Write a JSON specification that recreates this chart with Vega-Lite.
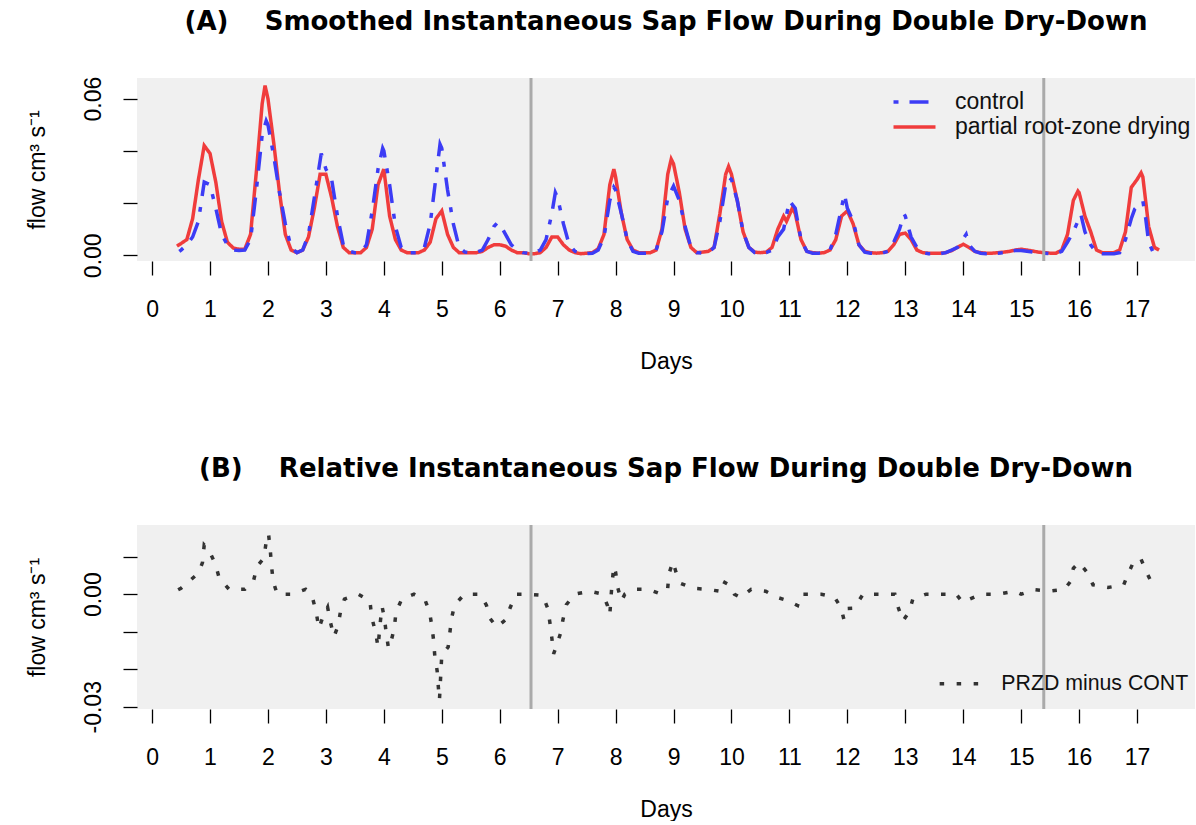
{
"$schema": "https://vega.github.io/schema/vega-lite/v6.json",
"background": "white",
"padding": {"left": 26, "top": 8, "right": 0, "bottom": 0},
"spacing": 83,
"config": {
  "view": {"fill": "#f0f0f0", "stroke": null},
  "font": "Liberation Sans",
  "axis": {"labelFont": "Liberation Sans", "labelFontSize": 23, "labelColor": "black", "tickColor": "black", "tickWidth": 1.3, "titleFont": "Liberation Sans", "titleColor": "black", "titleFontSize": 23, "titleFontWeight": "normal", "grid": false, "domain": false, "labelOverlap": false, "labelFlush": false},
  "title": {"font": "DejaVu Sans", "fontSize": 26, "fontWeight": "bold", "anchor": "middle", "frame": "group", "color": "black", "baseline": "alphabetic", "offset": 41.5},
  "legend": {"labelLimit": 500}
},
"resolve": {"scale": {"color": "independent", "strokeDash": "independent"}, "legend": {"color": "independent", "strokeDash": "independent"}},
"datasets": {
"sap": [
{"t":0.43,"s":"P","v":0.0035},{"t":0.5,"s":"P","v":0.0045},{"t":0.6,"s":"P","v":0.006},{"t":0.7,"s":"P","v":0.014},{"t":0.8,"s":"P","v":0.029},{"t":0.9,"s":"P","v":0.042},{"t":1.0,"s":"P","v":0.039},{"t":1.1,"s":"P","v":0.028},{"t":1.2,"s":"P","v":0.013},{"t":1.3,"s":"P","v":0.005},{"t":1.4,"s":"P","v":0.0028},
{"t":1.5,"s":"P","v":0.0023},{"t":1.6,"s":"P","v":0.0023},{"t":1.7,"s":"P","v":0.008},{"t":1.8,"s":"P","v":0.032},{"t":1.9,"s":"P","v":0.058},{"t":1.95,"s":"P","v":0.065},{"t":2.0,"s":"P","v":0.06},{"t":2.1,"s":"P","v":0.043},{"t":2.2,"s":"P","v":0.024},{"t":2.3,"s":"P","v":0.008},{"t":2.4,"s":"P","v":0.002},
{"t":2.5,"s":"P","v":0.001},{"t":2.6,"s":"P","v":0.002},{"t":2.7,"s":"P","v":0.007},{"t":2.8,"s":"P","v":0.018},{"t":2.9,"s":"P","v":0.031},{"t":3.0,"s":"P","v":0.031},{"t":3.1,"s":"P","v":0.022},{"t":3.2,"s":"P","v":0.011},{"t":3.3,"s":"P","v":0.003},{"t":3.4,"s":"P","v":0.001},
{"t":3.5,"s":"P","v":0.001},{"t":3.6,"s":"P","v":0.001},{"t":3.7,"s":"P","v":0.003},{"t":3.8,"s":"P","v":0.01},{"t":3.9,"s":"P","v":0.027},{"t":4.0,"s":"P","v":0.033},{"t":4.1,"s":"P","v":0.015},{"t":4.2,"s":"P","v":0.006},{"t":4.3,"s":"P","v":0.002},{"t":4.4,"s":"P","v":0.001},
{"t":4.5,"s":"P","v":0.001},{"t":4.6,"s":"P","v":0.001},{"t":4.7,"s":"P","v":0.002},{"t":4.8,"s":"P","v":0.005},{"t":4.9,"s":"P","v":0.014},{"t":5.0,"s":"P","v":0.017},{"t":5.1,"s":"P","v":0.008},{"t":5.2,"s":"P","v":0.003},{"t":5.3,"s":"P","v":0.001},{"t":5.4,"s":"P","v":0.001},
{"t":5.5,"s":"P","v":0.001},{"t":5.6,"s":"P","v":0.001},{"t":5.7,"s":"P","v":0.0015},{"t":5.8,"s":"P","v":0.003},{"t":5.9,"s":"P","v":0.004},{"t":6.0,"s":"P","v":0.004},{"t":6.1,"s":"P","v":0.0035},{"t":6.2,"s":"P","v":0.002},{"t":6.3,"s":"P","v":0.001},{"t":6.4,"s":"P","v":0.001},
{"t":6.5,"s":"P","v":0.0006},{"t":6.6,"s":"P","v":0.0006},{"t":6.7,"s":"P","v":0.001},{"t":6.8,"s":"P","v":0.003},{"t":6.9,"s":"P","v":0.007},{"t":7.0,"s":"P","v":0.007},{"t":7.1,"s":"P","v":0.004},{"t":7.2,"s":"P","v":0.002},{"t":7.3,"s":"P","v":0.001},{"t":7.4,"s":"P","v":0.0006},
{"t":7.5,"s":"P","v":0.0008},{"t":7.6,"s":"P","v":0.001},{"t":7.7,"s":"P","v":0.0025},{"t":7.8,"s":"P","v":0.008},{"t":7.9,"s":"P","v":0.027},{"t":7.97,"s":"P","v":0.033},{"t":8.0,"s":"P","v":0.03},{"t":8.1,"s":"P","v":0.016},{"t":8.2,"s":"P","v":0.006},{"t":8.3,"s":"P","v":0.002},{"t":8.4,"s":"P","v":0.001},
{"t":8.5,"s":"P","v":0.001},{"t":8.6,"s":"P","v":0.001},{"t":8.7,"s":"P","v":0.002},{"t":8.8,"s":"P","v":0.01},{"t":8.9,"s":"P","v":0.031},{"t":8.96,"s":"P","v":0.0368},{"t":9.0,"s":"P","v":0.035},{"t":9.1,"s":"P","v":0.024},{"t":9.2,"s":"P","v":0.01},{"t":9.3,"s":"P","v":0.003},{"t":9.4,"s":"P","v":0.001},
{"t":9.5,"s":"P","v":0.0012},{"t":9.6,"s":"P","v":0.0015},{"t":9.7,"s":"P","v":0.003},{"t":9.8,"s":"P","v":0.016},{"t":9.9,"s":"P","v":0.031},{"t":9.95,"s":"P","v":0.034},{"t":10.0,"s":"P","v":0.031},{"t":10.1,"s":"P","v":0.021},{"t":10.2,"s":"P","v":0.009},{"t":10.3,"s":"P","v":0.003},{"t":10.4,"s":"P","v":0.0012},
{"t":10.5,"s":"P","v":0.001},{"t":10.6,"s":"P","v":0.0012},{"t":10.7,"s":"P","v":0.003},{"t":10.8,"s":"P","v":0.01},{"t":10.9,"s":"P","v":0.015},{"t":10.95,"s":"P","v":0.013},{"t":11.05,"s":"P","v":0.018},{"t":11.1,"s":"P","v":0.016},{"t":11.2,"s":"P","v":0.006},{"t":11.3,"s":"P","v":0.0015},{"t":11.4,"s":"P","v":0.001},
{"t":11.5,"s":"P","v":0.0008},{"t":11.6,"s":"P","v":0.001},{"t":11.7,"s":"P","v":0.002},{"t":11.8,"s":"P","v":0.006},{"t":11.9,"s":"P","v":0.015},{"t":12.0,"s":"P","v":0.017},{"t":12.1,"s":"P","v":0.012},{"t":12.2,"s":"P","v":0.004},{"t":12.3,"s":"P","v":0.0015},{"t":12.4,"s":"P","v":0.001},
{"t":12.5,"s":"P","v":0.0008},{"t":12.6,"s":"P","v":0.001},{"t":12.7,"s":"P","v":0.0015},{"t":12.8,"s":"P","v":0.004},{"t":12.9,"s":"P","v":0.008},{"t":13.0,"s":"P","v":0.0085},{"t":13.1,"s":"P","v":0.006},{"t":13.2,"s":"P","v":0.002},{"t":13.3,"s":"P","v":0.001},{"t":13.4,"s":"P","v":0.0008},
{"t":13.5,"s":"P","v":0.0008},{"t":13.6,"s":"P","v":0.0008},{"t":13.7,"s":"P","v":0.001},{"t":13.8,"s":"P","v":0.0018},{"t":13.9,"s":"P","v":0.003},{"t":14.0,"s":"P","v":0.0042},{"t":14.1,"s":"P","v":0.003},{"t":14.2,"s":"P","v":0.0015},{"t":14.3,"s":"P","v":0.001},{"t":14.4,"s":"P","v":0.0008},
{"t":14.5,"s":"P","v":0.0008},{"t":14.6,"s":"P","v":0.001},{"t":14.7,"s":"P","v":0.0012},{"t":14.8,"s":"P","v":0.0015},{"t":14.9,"s":"P","v":0.002},{"t":15.0,"s":"P","v":0.0023},{"t":15.1,"s":"P","v":0.002},{"t":15.2,"s":"P","v":0.0016},{"t":15.3,"s":"P","v":0.0012},{"t":15.4,"s":"P","v":0.001},
{"t":15.5,"s":"P","v":0.0008},{"t":15.6,"s":"P","v":0.0008},{"t":15.7,"s":"P","v":0.002},{"t":15.8,"s":"P","v":0.008},{"t":15.9,"s":"P","v":0.021},{"t":15.98,"s":"P","v":0.0246},{"t":16.0,"s":"P","v":0.024},{"t":16.1,"s":"P","v":0.015},{"t":16.2,"s":"P","v":0.009},{"t":16.3,"s":"P","v":0.002},{"t":16.4,"s":"P","v":0.001},
{"t":16.5,"s":"P","v":0.001},{"t":16.6,"s":"P","v":0.001},{"t":16.7,"s":"P","v":0.002},{"t":16.8,"s":"P","v":0.009},{"t":16.9,"s":"P","v":0.026},{"t":17.0,"s":"P","v":0.029},{"t":17.07,"s":"P","v":0.0316},{"t":17.1,"s":"P","v":0.03},{"t":17.2,"s":"P","v":0.011},{"t":17.3,"s":"P","v":0.003},{"t":17.38,"s":"P","v":0.002},
{"t":0.47,"s":"C","v":0.0015},{"t":0.5,"s":"C","v":0.002},{"t":0.6,"s":"C","v":0.004},{"t":0.7,"s":"C","v":0.007},{"t":0.8,"s":"C","v":0.013},{"t":0.9,"s":"C","v":0.028},{"t":1.0,"s":"C","v":0.027},{"t":1.1,"s":"C","v":0.018},{"t":1.2,"s":"C","v":0.008},{"t":1.3,"s":"C","v":0.004},{"t":1.4,"s":"C","v":0.002},
{"t":1.5,"s":"C","v":0.0018},{"t":1.6,"s":"C","v":0.002},{"t":1.7,"s":"C","v":0.006},{"t":1.8,"s":"C","v":0.025},{"t":1.9,"s":"C","v":0.046},{"t":1.97,"s":"C","v":0.0515},{"t":2.0,"s":"C","v":0.05},{"t":2.1,"s":"C","v":0.038},{"t":2.2,"s":"C","v":0.024},{"t":2.3,"s":"C","v":0.012},{"t":2.4,"s":"C","v":0.003},
{"t":2.5,"s":"C","v":0.001},{"t":2.6,"s":"C","v":0.002},{"t":2.7,"s":"C","v":0.008},{"t":2.8,"s":"C","v":0.022},{"t":2.92,"s":"C","v":0.039},{"t":3.0,"s":"C","v":0.033},{"t":3.1,"s":"C","v":0.029},{"t":3.2,"s":"C","v":0.015},{"t":3.3,"s":"C","v":0.004},{"t":3.4,"s":"C","v":0.0015},
{"t":3.5,"s":"C","v":0.001},{"t":3.6,"s":"C","v":0.001},{"t":3.7,"s":"C","v":0.004},{"t":3.8,"s":"C","v":0.017},{"t":3.9,"s":"C","v":0.033},{"t":3.98,"s":"C","v":0.041},{"t":4.0,"s":"C","v":0.04},{"t":4.1,"s":"C","v":0.027},{"t":4.2,"s":"C","v":0.011},{"t":4.3,"s":"C","v":0.003},{"t":4.4,"s":"C","v":0.001},
{"t":4.5,"s":"C","v":0.001},{"t":4.6,"s":"C","v":0.001},{"t":4.7,"s":"C","v":0.003},{"t":4.8,"s":"C","v":0.012},{"t":4.9,"s":"C","v":0.03},{"t":4.97,"s":"C","v":0.0425},{"t":5.0,"s":"C","v":0.041},{"t":5.1,"s":"C","v":0.025},{"t":5.2,"s":"C","v":0.012},{"t":5.3,"s":"C","v":0.003},{"t":5.4,"s":"C","v":0.0012},
{"t":5.5,"s":"C","v":0.001},{"t":5.6,"s":"C","v":0.0012},{"t":5.7,"s":"C","v":0.002},{"t":5.8,"s":"C","v":0.006},{"t":5.9,"s":"C","v":0.011},{"t":5.96,"s":"C","v":0.0125},{"t":6.0,"s":"C","v":0.012},{"t":6.1,"s":"C","v":0.008},{"t":6.2,"s":"C","v":0.004},{"t":6.3,"s":"C","v":0.002},{"t":6.4,"s":"C","v":0.001},
{"t":6.5,"s":"C","v":0.0008},{"t":6.6,"s":"C","v":0.001},{"t":6.7,"s":"C","v":0.002},{"t":6.8,"s":"C","v":0.006},{"t":6.9,"s":"C","v":0.016},{"t":6.96,"s":"C","v":0.024},{"t":7.0,"s":"C","v":0.022},{"t":7.1,"s":"C","v":0.012},{"t":7.2,"s":"C","v":0.004},{"t":7.3,"s":"C","v":0.0015},{"t":7.4,"s":"C","v":0.0008},
{"t":7.5,"s":"C","v":0.0006},{"t":7.6,"s":"C","v":0.0008},{"t":7.7,"s":"C","v":0.002},{"t":7.8,"s":"C","v":0.007},{"t":7.9,"s":"C","v":0.021},{"t":7.97,"s":"C","v":0.026},{"t":8.0,"s":"C","v":0.025},{"t":8.1,"s":"C","v":0.016},{"t":8.2,"s":"C","v":0.006},{"t":8.3,"s":"C","v":0.0015},{"t":8.4,"s":"C","v":0.0008},
{"t":8.5,"s":"C","v":0.0008},{"t":8.6,"s":"C","v":0.0008},{"t":8.7,"s":"C","v":0.002},{"t":8.8,"s":"C","v":0.009},{"t":8.9,"s":"C","v":0.022},{"t":9.0,"s":"C","v":0.0265},{"t":9.1,"s":"C","v":0.021},{"t":9.2,"s":"C","v":0.011},{"t":9.3,"s":"C","v":0.003},{"t":9.4,"s":"C","v":0.001},
{"t":9.5,"s":"C","v":0.0008},{"t":9.6,"s":"C","v":0.001},{"t":9.7,"s":"C","v":0.003},{"t":9.8,"s":"C","v":0.013},{"t":9.9,"s":"C","v":0.027},{"t":9.96,"s":"C","v":0.0297},{"t":10.0,"s":"C","v":0.029},{"t":10.1,"s":"C","v":0.021},{"t":10.2,"s":"C","v":0.009},{"t":10.3,"s":"C","v":0.003},{"t":10.4,"s":"C","v":0.001},
{"t":10.5,"s":"C","v":0.0008},{"t":10.6,"s":"C","v":0.001},{"t":10.7,"s":"C","v":0.002},{"t":10.8,"s":"C","v":0.007},{"t":10.9,"s":"C","v":0.01},{"t":11.0,"s":"C","v":0.0208},{"t":11.1,"s":"C","v":0.018},{"t":11.2,"s":"C","v":0.006},{"t":11.3,"s":"C","v":0.0015},{"t":11.4,"s":"C","v":0.0008},
{"t":11.5,"s":"C","v":0.0008},{"t":11.6,"s":"C","v":0.001},{"t":11.7,"s":"C","v":0.002},{"t":11.8,"s":"C","v":0.008},{"t":11.95,"s":"C","v":0.0234},{"t":12.0,"s":"C","v":0.018},{"t":12.1,"s":"C","v":0.013},{"t":12.2,"s":"C","v":0.004},{"t":12.3,"s":"C","v":0.0012},{"t":12.4,"s":"C","v":0.0008},
{"t":12.5,"s":"C","v":0.0006},{"t":12.6,"s":"C","v":0.0008},{"t":12.7,"s":"C","v":0.0015},{"t":12.8,"s":"C","v":0.005},{"t":12.9,"s":"C","v":0.01},{"t":12.98,"s":"C","v":0.0157},{"t":13.0,"s":"C","v":0.015},{"t":13.1,"s":"C","v":0.007},{"t":13.2,"s":"C","v":0.003},{"t":13.3,"s":"C","v":0.001},{"t":13.4,"s":"C","v":0.0006},
{"t":13.5,"s":"C","v":0.0006},{"t":13.6,"s":"C","v":0.0006},{"t":13.7,"s":"C","v":0.001},{"t":13.8,"s":"C","v":0.002},{"t":13.9,"s":"C","v":0.003},{"t":14.05,"s":"C","v":0.008},{"t":14.1,"s":"C","v":0.004},{"t":14.2,"s":"C","v":0.0015},{"t":14.3,"s":"C","v":0.0008},{"t":14.4,"s":"C","v":0.0006},
{"t":14.5,"s":"C","v":0.0006},{"t":14.6,"s":"C","v":0.0008},{"t":14.7,"s":"C","v":0.001},{"t":14.8,"s":"C","v":0.0015},{"t":14.9,"s":"C","v":0.0018},{"t":15.0,"s":"C","v":0.0018},{"t":15.1,"s":"C","v":0.0015},{"t":15.2,"s":"C","v":0.0012},{"t":15.3,"s":"C","v":0.001},{"t":15.4,"s":"C","v":0.0008},
{"t":15.5,"s":"C","v":0.0006},{"t":15.6,"s":"C","v":0.0006},{"t":15.7,"s":"C","v":0.0015},{"t":15.8,"s":"C","v":0.005},{"t":15.9,"s":"C","v":0.009},{"t":16.03,"s":"C","v":0.0157},{"t":16.1,"s":"C","v":0.009},{"t":16.2,"s":"C","v":0.004},{"t":16.3,"s":"C","v":0.001},{"t":16.4,"s":"C","v":0.0006},
{"t":16.5,"s":"C","v":0.0006},{"t":16.6,"s":"C","v":0.0006},{"t":16.7,"s":"C","v":0.001},{"t":16.8,"s":"C","v":0.006},{"t":16.9,"s":"C","v":0.014},{"t":16.96,"s":"C","v":0.0177},{"t":17.1,"s":"C","v":0.0208},{"t":17.15,"s":"C","v":0.014},{"t":17.2,"s":"C","v":0.005},{"t":17.27,"s":"C","v":0.0015}
],
"diff": [
{"t":0.45,"v":0.0012},{"t":0.5,"v":0.0016},{"t":0.65,"v":0.0036},{"t":0.8,"v":0.0056},{"t":0.87,"v":0.0084},{"t":0.9,"v":0.0131},{"t":0.98,"v":0.0118},{"t":1.09,"v":0.0081},{"t":1.16,"v":0.0043},{"t":1.33,"v":0.0013},{"t":1.6,"v":0.0013},{"t":1.75,"v":0.0035},{"t":1.81,"v":0.0074},{"t":1.93,"v":0.0096},{"t":1.97,"v":0.014},{"t":2.01,"v":0.0161},{"t":2.04,"v":0.0118},{"t":2.06,"v":0.0078},{"t":2.09,"v":0.0034},{"t":2.16,"v":0.0},{"t":2.42,"v":0.0},
{"t":2.65,"v":0.0013},{"t":2.77,"v":-0.001},{"t":2.83,"v":-0.0046},{"t":2.88,"v":-0.0091},{"t":2.94,"v":-0.0064},{"t":3.03,"v":-0.0035},{"t":3.08,"v":-0.0076},{"t":3.14,"v":-0.0113},{"t":3.21,"v":-0.0084},{"t":3.25,"v":-0.0048},{"t":3.32,"v":-0.0013},{"t":3.56,"v":0.0},
{"t":3.76,"v":-0.0018},{"t":3.79,"v":-0.006},{"t":3.86,"v":-0.0104},{"t":3.9,"v":-0.0141},{"t":3.94,"v":-0.0073},{"t":3.97,"v":-0.0033},{"t":4.01,"v":-0.0064},{"t":4.04,"v":-0.0102},{"t":4.08,"v":-0.0144},{"t":4.12,"v":-0.0129},{"t":4.18,"v":-0.0091},{"t":4.21,"v":-0.0048},{"t":4.31,"v":-0.0013},{"t":4.52,"v":0.0},
{"t":4.71,"v":-0.0015},{"t":4.79,"v":-0.0048},{"t":4.83,"v":-0.0086},{"t":4.86,"v":-0.0124},{"t":4.88,"v":-0.0166},{"t":4.92,"v":-0.0204},{"t":4.94,"v":-0.0246},{"t":4.96,"v":-0.0282},{"t":5.0,"v":-0.0162},{"t":5.11,"v":-0.0141},{"t":5.14,"v":-0.0102},{"t":5.17,"v":-0.0064},{"t":5.22,"v":-0.0029},{"t":5.39,"v":0.0},
{"t":5.66,"v":0.0},{"t":5.77,"v":-0.0029},{"t":5.83,"v":-0.0064},{"t":5.95,"v":-0.0088},{"t":6.11,"v":-0.0067},{"t":6.18,"v":-0.0036},{"t":6.28,"v":0.0},{"t":6.48,"v":0.0},
{"t":6.74,"v":-0.0003},{"t":6.83,"v":-0.0038},{"t":6.87,"v":-0.008},{"t":6.9,"v":-0.0117},{"t":6.93,"v":-0.0159},{"t":6.97,"v":-0.0142},{"t":7.05,"v":-0.0104},{"t":7.09,"v":-0.0069},{"t":7.15,"v":-0.0028},{"t":7.29,"v":0.0},{"t":7.55,"v":0.0008},
{"t":7.78,"v":0.0},{"t":7.86,"v":-0.003},{"t":7.9,"v":-0.0055},{"t":7.92,"v":-0.001},{"t":7.94,"v":0.0031},{"t":7.97,"v":0.0075},{"t":8.0,"v":0.0059},{"t":8.04,"v":0.0016},{"t":8.1,"v":-0.0018},{"t":8.16,"v":0.0},{"t":8.35,"v":0.0013},{"t":8.57,"v":0.0013},
{"t":8.79,"v":0.0},{"t":8.9,"v":0.0016},{"t":8.92,"v":0.0054},{"t":8.99,"v":0.0087},{"t":9.04,"v":0.006},{"t":9.12,"v":0.0029},{"t":9.33,"v":0.0016},{"t":9.59,"v":0.0013},
{"t":9.79,"v":0.0008},{"t":9.84,"v":0.0035},{"t":9.98,"v":0.0023},{"t":10.05,"v":0.0},{"t":10.16,"v":-0.0009},{"t":10.34,"v":0.0013},{"t":10.59,"v":0.0008},
{"t":10.8,"v":-0.0009},{"t":10.97,"v":-0.0017},{"t":11.14,"v":-0.003},{"t":11.2,"v":0.0},{"t":11.55,"v":0.0},
{"t":11.78,"v":-0.0008},{"t":11.89,"v":-0.0036},{"t":11.94,"v":-0.0067},{"t":11.99,"v":-0.0038},{"t":12.12,"v":-0.0037},{"t":12.27,"v":0.0},{"t":12.56,"v":0.0},
{"t":12.82,"v":0.0},{"t":12.87,"v":-0.0032},{"t":12.96,"v":-0.0071},{"t":13.07,"v":-0.0046},{"t":13.13,"v":-0.0013},{"t":13.36,"v":0.0},{"t":13.68,"v":0.0},
{"t":13.88,"v":0.0},{"t":13.99,"v":-0.0022},{"t":14.05,"v":-0.0017},{"t":14.31,"v":0.0},{"t":14.6,"v":0.0},{"t":14.89,"v":0.0008},{"t":15.0,"v":0.0},{"t":15.22,"v":0.0012},{"t":15.49,"v":0.0008},
{"t":15.75,"v":0.0013},{"t":15.86,"v":0.0036},{"t":15.9,"v":0.0069},{"t":16.0,"v":0.0085},{"t":16.15,"v":0.0056},{"t":16.24,"v":0.0025},{"t":16.5,"v":0.0018},
{"t":16.77,"v":0.0025},{"t":16.85,"v":0.0056},{"t":16.96,"v":0.0093},{"t":17.07,"v":0.0093},{"t":17.16,"v":0.006},{"t":17.27,"v":0.0025}
],
"breaks": [{"t":6.54},{"t":15.39}]
},
"vconcat": [
{
  "width": 1058, "height": 183,
  "title": {"text": "(A)\u00a0\u00a0\u00a0\u00a0Smoothed Instantaneous Sap Flow During Double Dry-Down"},
  "layer": [
    {
      "data": {"name": "sap"},
      "transform": [{"filter": "datum.s == 'P'"}],
      "mark": {"type": "line", "strokeWidth": 3.5, "interpolate": "linear"},
      "encoding": {
        "x": {"field": "t", "type": "quantitative", "scale": {"domain": [-0.26, 18.0], "nice": false, "zero": false},
              "axis": {"title": "Days", "values": [0,1,2,3,4,5,6,7,8,9,10,11,12,13,14,15,16,17], "format": "d", "tickSize": 14, "labelPadding": 23, "titlePadding": 29}},
        "y": {"field": "v", "type": "quantitative", "scale": {"domain": [-0.0022, 0.0679], "nice": false, "zero": false},
              "axis": {"title": "flow  cm³ s⁻¹", "values": [0,0.01,0.02,0.03,0.04,0.05,0.06], "labelExpr": "datum.value == 0 ? '0.00' : datum.value == 0.03 ? '0.03' : datum.value == 0.06 ? '0.06' : ''", "labelAngle": -90, "labelAlign": "center", "labelBaseline": "alphabetic", "labelPadding": 23, "tickSize": 14, "titleAngle": -90, "titleBaseline": "alphabetic", "titlePadding": 38}},
        "color": {"field": "s", "type": "nominal", "scale": {"domain": ["C","P"], "range": ["#3c3cf5","#f03c3c"]},
                  "legend": {"orient": "none", "legendX": 766, "legendY": 12.5, "title": null, "labelExpr": "datum.value == 'C' ? 'control' : 'partial root-zone drying'", "symbolType": "M-4.2,0H4.2", "symbolSize": 100, "symbolStrokeWidth": 3.5, "labelOffset": 29, "rowPadding": 1, "padding": 0, "labelFontSize": 23, "labelFont": "Liberation Sans", "labelColor": "#111111", "labelLimit": 500}},
        "strokeDash": {"field": "s", "type": "nominal", "scale": {"domain": ["C","P"], "range": [[5,11,19,11],[1,0]]},
                  "legend": {"orient": "none", "legendX": 766, "legendY": 12.5, "title": null, "labelExpr": "datum.value == 'C' ? 'control' : 'partial root-zone drying'", "symbolType": "M-4.2,0H4.2", "symbolSize": 100, "symbolStrokeWidth": 3.5, "labelOffset": 29, "rowPadding": 1, "padding": 0, "labelFontSize": 23, "labelFont": "Liberation Sans", "labelColor": "#111111", "labelLimit": 500}}
      }
    },
    {
      "data": {"name": "sap"},
      "transform": [{"filter": "datum.s == 'C'"}],
      "mark": {"type": "line", "strokeWidth": 3.5, "interpolate": "linear"},
      "encoding": {
        "x": {"field": "t", "type": "quantitative"},
        "y": {"field": "v", "type": "quantitative"},
        "color": {"field": "s", "type": "nominal"},
        "strokeDash": {"field": "s", "type": "nominal"}
      }
    },
    {
      "data": {"name": "breaks"},
      "mark": {"type": "rule", "color": "#aaaaaa", "strokeWidth": 3},
      "encoding": {"x": {"field": "t", "type": "quantitative"}}
    },
    {
      "mark": {"type": "rule", "color": "black", "strokeWidth": 1.3},
      "encoding": {"x": {"datum": -0.26}, "y": {"datum": 0}, "y2": {"datum": 0.06}}
    },
    {
      "mark": {"type": "rule", "color": "black", "strokeWidth": 1.3},
      "encoding": {"y": {"datum": -0.0022}, "x": {"datum": 0}, "x2": {"datum": 17}}
    }
  ]
},
{
  "width": 1058, "height": 184,
  "title": {"text": "(B)\u00a0\u00a0\u00a0\u00a0Relative Instantaneous Sap Flow During Double Dry-Down"},
  "layer": [
    {
      "data": {"name": "diff"},
      "mark": {"type": "line", "strokeWidth": 3.5, "strokeDash": [4.5, 12.5], "interpolate": "linear"},
      "encoding": {
        "x": {"field": "t", "type": "quantitative", "scale": {"domain": [-0.26, 18.0], "nice": false, "zero": false},
              "axis": {"title": "Days", "values": [0,1,2,3,4,5,6,7,8,9,10,11,12,13,14,15,16,17], "format": "d", "tickSize": 14, "labelPadding": 23, "titlePadding": 29}},
        "y": {"field": "v", "type": "quantitative", "scale": {"domain": [-0.0306, 0.01845], "nice": false, "zero": false},
              "axis": {"title": "flow  cm³ s⁻¹", "values": [-0.03,-0.02,-0.01,0,0.01], "labelExpr": "datum.value == 0 ? '0.00' : datum.value == -0.03 ? '-0.03' : ''", "labelAngle": -90, "labelAlign": "center", "labelBaseline": "alphabetic", "labelPadding": 23, "tickSize": 14, "titleAngle": -90, "titleBaseline": "alphabetic", "titlePadding": 38}},
        "color": {"datum": "PRZD minus CONT", "type": "nominal", "scale": {"range": ["#333333"]},
                  "legend": {"orient": "none", "legendX": 812, "legendY": 148, "title": null, "symbolType": "M-4,0H4", "symbolSize": 100, "symbolStrokeWidth": 3.5, "symbolDash": [4.5, 12.5], "labelOffset": 31, "padding": 0, "labelFontSize": 21.3, "labelFont": "Liberation Sans", "labelColor": "#111111", "labelLimit": 500}}
      }
    },
    {
      "mark": {"type": "rule", "color": "#8f6ff0", "opacity": 0.6, "strokeWidth": 5},
      "encoding": {"y": {"datum": 0}}
    },
    {
      "data": {"name": "breaks"},
      "mark": {"type": "rule", "color": "#aaaaaa", "strokeWidth": 3},
      "encoding": {"x": {"field": "t", "type": "quantitative"}}
    },
    {
      "mark": {"type": "rule", "color": "black", "strokeWidth": 1.3},
      "encoding": {"x": {"datum": -0.26}, "y": {"datum": -0.03}, "y2": {"datum": 0.01}}
    },
    {
      "mark": {"type": "rule", "color": "black", "strokeWidth": 1.3},
      "encoding": {"y": {"datum": -0.0306}, "x": {"datum": 0}, "x2": {"datum": 17}}
    }
  ]
}
]
}
